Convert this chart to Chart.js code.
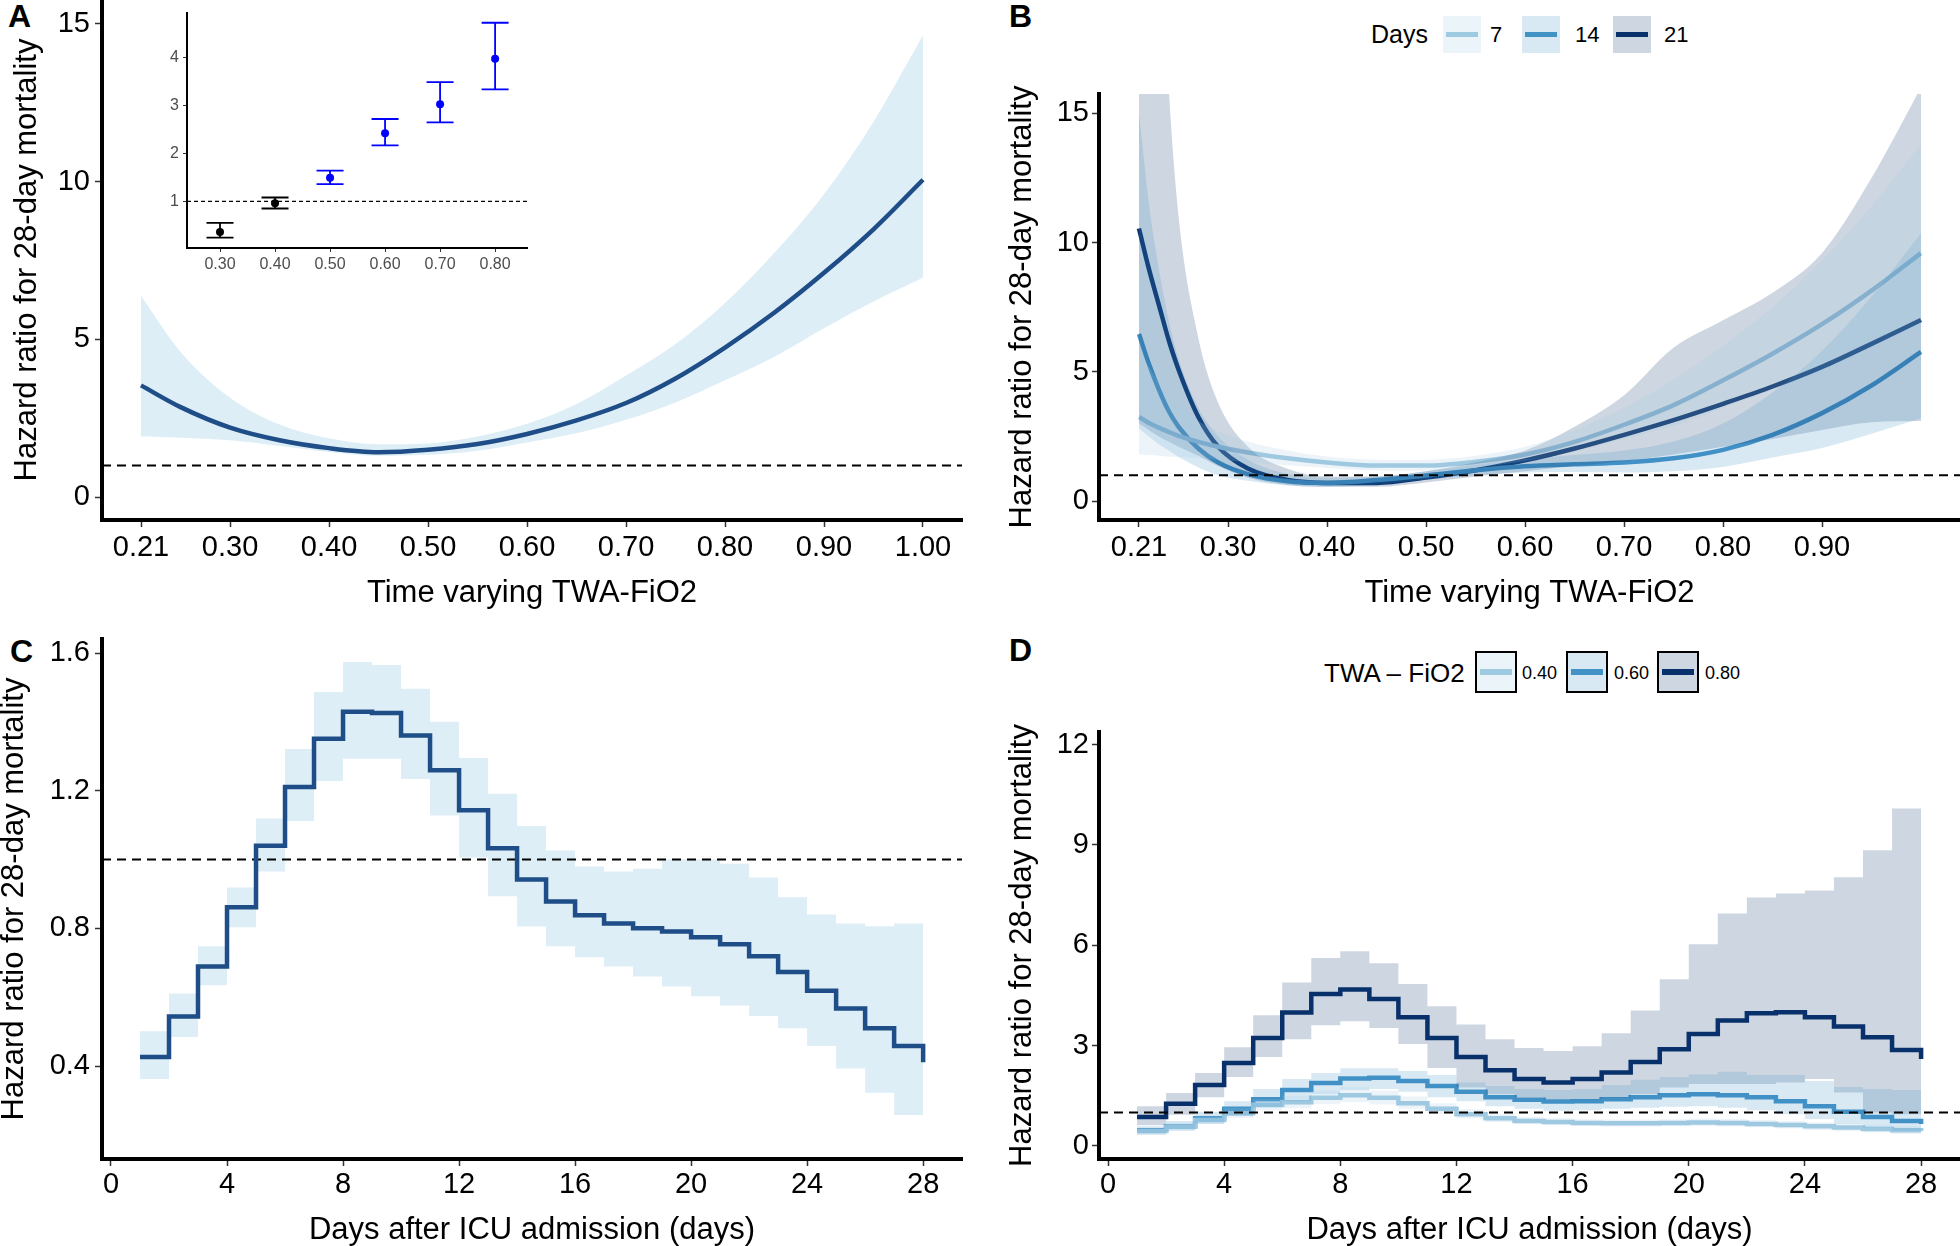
<!DOCTYPE html>
<html><head><meta charset="utf-8">
<script src="https://cdn.jsdelivr.net/npm/chart.js@4.4.1/dist/chart.umd.min.js"></script>
<style>
html,body{margin:0;padding:0;background:#fff;}
body{width:1960px;height:1246px;position:relative;overflow:hidden;font-family:"Liberation Sans",Arial,Helvetica,sans-serif;}
canvas{position:absolute;}
.t{position:absolute;line-height:1;white-space:nowrap;color:#000;}
.b{font-weight:bold;font-size:32px;}
.key{position:absolute;box-sizing:border-box;}
.kl{position:absolute;left:3px;right:3px;top:50%;height:5px;margin-top:-2.5px;}
</style></head><body>

<div class="t b" style="left:8px;top:0px">A</div>
<div class="t b" style="left:1009px;top:0px">B</div>
<div class="t b" style="left:10px;top:635px">C</div>
<div class="t b" style="left:1009px;top:634px">D</div>

<div class="t" style="left:1371px;top:22px;font-size:25px">Days</div>
<div class="key" style="left:1443px;top:16px;width:38px;height:37px;background:#EBF4F9"><div class="kl" style="background:#9ECAE1"></div></div>
<div class="t" style="left:1490px;top:24px;font-size:22px">7</div>
<div class="key" style="left:1522px;top:16px;width:38px;height:37px;background:#D9E9F4"><div class="kl" style="background:#4292C6"></div></div>
<div class="t" style="left:1575px;top:24px;font-size:22px">14</div>
<div class="key" style="left:1613px;top:16px;width:38px;height:37px;background:#CED6E1"><div class="kl" style="background:#08306B"></div></div>
<div class="t" style="left:1664px;top:24px;font-size:22px">21</div>

<div class="t" style="left:1324px;top:660px;font-size:26px">TWA – FiO2</div>
<div class="key" style="left:1475px;top:651px;width:42px;height:42px;background:#EBF4F9;border:2px solid #000"><div class="kl" style="background:#9ECAE1;height:6px;margin-top:-3px"></div></div>
<div class="t" style="left:1522px;top:664px;font-size:18px">0.40</div>
<div class="key" style="left:1566px;top:651px;width:42px;height:42px;background:#D9E9F4;border:2px solid #000"><div class="kl" style="background:#4292C6;height:6px;margin-top:-3px"></div></div>
<div class="t" style="left:1614px;top:664px;font-size:18px">0.60</div>
<div class="key" style="left:1657px;top:651px;width:42px;height:42px;background:#CED6E1;border:2px solid #000"><div class="kl" style="background:#08306B;height:6px;margin-top:-3px"></div></div>
<div class="t" style="left:1705px;top:664px;font-size:18px">0.80</div>

<script>
// ---------------- DATA ----------------
// Panel A: main spline (HR vs time-varying TWA-FiO2)
const fio2A = [0.21,0.25,0.30,0.35,0.40,0.45,0.50,0.55,0.60,0.65,0.70,0.75,0.80,0.85,0.90,0.95,1.00];
const hrA   = [3.54,2.85,2.20,1.80,1.55,1.42,1.50,1.68,2.00,2.43,2.98,3.76,4.74,5.85,7.11,8.49,10.06];
const hiA   = [6.38,4.60,3.15,2.30,1.86,1.67,1.70,1.92,2.32,2.95,3.85,4.85,6.15,7.75,9.60,11.90,14.64];
const loA   = [1.93,1.88,1.80,1.62,1.43,1.31,1.34,1.47,1.73,2.02,2.45,3.00,3.70,4.45,5.35,6.20,6.95];
const xTicksA = [0.21,0.30,0.40,0.50,0.60,0.70,0.80,0.90,1.00];
const xLabelsA = ["0.21","0.30","0.40","0.50","0.60","0.70","0.80","0.90","1.00"];
const yTicksA = [0,5,10,15];
const yLabelsA = ["0","5","10","15"];

// Panel A inset: categorical FiO2 HR with CI
const insetCats = [0.30,0.40,0.50,0.60,0.70,0.80];
const insetLabels = ["0.30","0.40","0.50","0.60","0.70","0.80"];
const insetHR = [0.36,0.96,1.49,2.42,3.03,3.98];
const insetLo = [0.24,0.85,1.36,2.17,2.65,3.34];
const insetHi = [0.55,1.08,1.64,2.72,3.49,4.73];
const insetYTicks = [1,2,3,4];

// Panel B: HR curves at day 7, 14, 21
const fio2B = [0.21,0.22,0.23,0.24,0.25,0.27,0.29,0.32,0.36,0.40,0.45,0.50,0.55,0.60,0.65,0.70,0.75,0.80,0.85,0.90,0.95,1.00];
const hrB7  = [3.25,3.02,2.84,2.67,2.52,2.29,2.10,1.88,1.65,1.49,1.37,1.37,1.52,1.80,2.29,2.95,3.71,4.67,5.70,6.84,8.14,9.59];
const hiB7  = [5.90,5.20,4.60,4.10,3.70,3.10,2.70,2.30,1.95,1.72,1.60,1.60,1.75,2.10,2.75,3.60,4.70,6.00,7.50,9.30,11.40,13.80];
const loB7  = [1.80,1.78,1.75,1.72,1.70,1.65,1.60,1.50,1.38,1.28,1.18,1.17,1.30,1.55,1.92,2.40,2.90,3.60,4.30,5.00,5.90,6.80];
const hrB14 = [6.46,5.31,4.32,3.48,2.87,2.03,1.49,1.04,0.76,0.70,0.81,0.99,1.19,1.34,1.42,1.49,1.65,1.98,2.56,3.40,4.47,5.77];
const hiB14 = [15.0,11.5,9.0,7.0,5.5,3.6,2.5,1.6,1.05,0.90,0.95,1.15,1.40,1.62,1.78,1.95,2.30,3.00,4.20,5.80,7.90,10.36];
const loB14 = [2.80,2.50,2.20,1.95,1.70,1.30,1.00,0.78,0.60,0.55,0.63,0.82,1.00,1.10,1.12,1.10,1.15,1.32,1.68,2.05,2.60,3.20];
const hrB21 = [10.54,8.98,7.60,6.23,5.08,3.25,2.10,1.26,0.81,0.70,0.70,0.91,1.19,1.57,2.03,2.56,3.13,3.76,4.43,5.19,6.08,7.00];
const hiB21 = [40.0,32.0,24.0,16.0,11.0,6.3,3.8,2.1,1.25,0.95,0.95,1.15,1.50,1.95,2.87,4.09,5.93,6.99,8.06,9.60,12.50,16.00];
const loB21 = [3.00,2.75,2.50,2.30,2.10,1.75,1.35,0.90,0.62,0.55,0.55,0.72,0.95,1.15,1.35,1.55,1.80,2.10,2.40,2.75,3.05,3.10];
const xTicksB = [0.21,0.30,0.40,0.50,0.60,0.70,0.80,0.90];
const xLabelsB = ["0.21","0.30","0.40","0.50","0.60","0.70","0.80","0.90"];
const yTicksB = [0,5,10,15];
const yLabelsB = ["0","5","10","15"];

// Panel C: HR by day after ICU admission
const daysC = [1,2,3,4,5,6,7,8,9,10,11,12,13,14,15,16,17,18,19,20,21,22,23,24,25,26,27,28];
const hrC = [0.426,0.544,0.689,0.861,1.040,1.211,1.351,1.429,1.426,1.360,1.259,1.143,1.033,0.942,0.878,0.838,0.814,0.800,0.791,0.774,0.754,0.719,0.673,0.619,0.567,0.510,0.458,0.411];
const hiC = [0.501,0.611,0.748,0.919,1.119,1.321,1.487,1.574,1.565,1.496,1.400,1.295,1.191,1.097,1.026,0.980,0.965,0.973,1.000,1.000,0.988,0.948,0.890,0.840,0.814,0.806,0.814,0.814];
const loC = [0.362,0.484,0.635,0.803,0.965,1.112,1.228,1.293,1.293,1.234,1.128,1.006,0.893,0.805,0.748,0.716,0.689,0.660,0.631,0.603,0.576,0.545,0.510,0.458,0.393,0.322,0.258,0.210];
const dayTicks = [0,4,8,12,16,20,24,28];
const dayLabels = ["0","4","8","12","16","20","24","28"];
const yTicksC = [0.4,0.8,1.2,1.6];
const yLabelsC = ["0.4","0.8","1.2","1.6"];

// Panel D: HR by day for TWA-FiO2 0.40, 0.60, 0.80
const daysD = [1,2,3,4,5,6,7,8,9,10,11,12,13,14,15,16,17,18,19,20,21,22,23,24,25,26,27,28];
const hrD40 = [0.45,0.58,0.78,0.98,1.23,1.31,1.44,1.52,1.44,1.28,1.11,0.95,0.83,0.75,0.72,0.69,0.68,0.68,0.69,0.70,0.69,0.66,0.63,0.59,0.55,0.51,0.47,0.45];
const hiD40 = [0.55,0.70,0.92,1.14,1.40,1.50,1.66,1.76,1.66,1.48,1.28,1.10,0.96,0.87,0.83,0.80,0.79,0.79,0.80,0.82,0.81,0.78,0.75,0.71,0.67,0.63,0.60,0.58];
const loD40 = [0.37,0.48,0.66,0.84,1.07,1.13,1.25,1.31,1.24,1.11,0.96,0.82,0.72,0.65,0.62,0.60,0.58,0.58,0.59,0.59,0.58,0.56,0.52,0.48,0.44,0.40,0.36,0.34];
const hrD60 = [0.47,0.59,0.83,1.11,1.40,1.67,1.88,2.02,2.04,1.94,1.79,1.62,1.46,1.38,1.33,1.34,1.40,1.46,1.52,1.55,1.52,1.46,1.34,1.19,1.02,0.87,0.75,0.66];
const hiD60 = [0.59,0.75,1.02,1.34,1.70,2.00,2.18,2.32,2.32,2.24,2.12,1.90,1.79,1.70,1.67,1.70,1.82,1.98,2.06,2.14,2.22,2.12,2.12,1.94,1.76,1.70,1.67,1.67];
const loD60 = [0.33,0.45,0.66,0.90,1.14,1.34,1.55,1.67,1.70,1.62,1.46,1.34,1.19,1.11,1.05,1.07,1.11,1.14,1.17,1.19,1.14,1.07,0.95,0.81,0.66,0.55,0.45,0.40];
const hrD80 = [0.87,1.26,1.82,2.48,3.23,3.99,4.54,4.68,4.39,3.85,3.23,2.66,2.26,2.00,1.90,2.00,2.20,2.51,2.89,3.35,3.75,3.97,4.00,3.85,3.57,3.25,2.87,2.60];
const hiD80 = [1.19,1.58,2.18,2.95,3.91,4.89,5.62,5.82,5.46,4.84,4.18,3.63,3.19,2.93,2.84,2.98,3.37,4.05,4.98,6.03,6.95,7.43,7.55,7.64,8.03,8.84,10.09,11.80];
const loD80 = [0.62,0.93,1.46,2.06,2.66,3.19,3.61,3.73,3.53,3.05,2.33,1.75,1.55,1.45,1.40,1.40,1.45,1.55,1.75,1.85,1.85,1.85,1.90,2.00,1.60,1.00,0.95,0.95];
const yTicksD = [0,3,6,9,12];
const yLabelsD = ["0","3","6","9","12"];

const refHR = 1;

// ---------------- HELPERS ----------------
Chart.defaults.font.family = '"Liberation Sans", Arial, Helvetica, sans-serif';
Chart.defaults.color = '#000';

function pts(xs, ys){ return xs.map((x,i)=>({x:x, y:ys[i]})); }

function makeCanvas(id, left, top, w, h){
  const c = document.createElement('canvas');
  c.id = id; c.width = w; c.height = h;
  c.style.left = left+'px'; c.style.top = top+'px';
  c.style.width = w+'px'; c.style.height = h+'px';
  document.body.appendChild(c);
  return c;
}

function axes(g){
  return {
    x: {
      type:'linear', min:g.xmin, max:g.xmax,
      afterBuildTicks: s => { s.ticks = g.xt.map(v=>({value:v})); },
      afterFit: s => { s.height = g.xh; s.paddingLeft = 0; s.paddingRight = 0; },
      ticks: { autoSkip:false, maxRotation:0, minRotation:0, padding:g.xtp, color:g.tc||'#000',
               font:{size:g.tf}, callback:(v,i)=>g.xl[i] },
      grid: { display:true, drawOnChartArea:false, drawTicks:true, tickLength:g.tl, tickWidth:g.tw, tickColor:'#333', color:'#333' },
      border: { display:true, color:'#000', width:g.bw },
      title: g.xtitle ? { display:true, text:g.xtitle, color:'#000', font:{size:31}, padding:{top:0,bottom:g.xtb} } : {display:false}
    },
    y: {
      type:'linear', min:g.ymin, max:g.ymax,
      afterBuildTicks: s => { s.ticks = g.yt.map(v=>({value:v})); },
      afterFit: s => { s.width = g.yw; s.paddingTop = 0; s.paddingBottom = 0; },
      ticks: { autoSkip:false, padding:g.ytp, color:g.tc||'#000', font:{size:g.tf}, callback:(v,i)=>g.yl[i] },
      grid: { display:true, drawOnChartArea:false, drawTicks:true, tickLength:g.tl, tickWidth:g.tw, tickColor:'#333', color:'#333' },
      border: { display:true, color:'#000', width:g.bw },
      title: g.ytitle ? { display:true, text:g.ytitle, color:'#000', font:{size:31}, padding:{top:g.ytt,bottom:0} } : {display:false}
    }
  };
}

function baseOpts(g, pad){
  return {
    responsive:false, animation:false, devicePixelRatio:1, events:[],
    layout:{padding:pad},
    plugins:{legend:{display:false}, tooltip:{enabled:false}, filler:{propagate:false}},
    scales: axes(g),
    elements:{point:{radius:0}}
  };
}

function lineDS(data, color, width, order, extra){
  return Object.assign({type:'line', data:data, borderColor:color, borderWidth:width, pointRadius:0,
    fill:false, order:order, borderCapStyle:'butt', borderJoinStyle:'miter'}, extra||{});
}
function bandDS(data, fillColor, order, fillTarget, extra){
  return Object.assign({type:'line', data:data, borderWidth:0, borderColor:'rgba(0,0,0,0)', pointRadius:0,
    backgroundColor:fillColor, fill:fillTarget, order:order}, extra||{});
}
function dashDS(xmin, xmax, order, dash, w){
  return {type:'line', data:[{x:xmin,y:refHR},{x:xmax,y:refHR}], borderColor:'#000', borderWidth:w||2,
    borderDash:dash||[9,6], pointRadius:0, fill:false, order:order};
}

const YT = "Hazard ratio for 28-day mortality";
const lineBlue = '#1E4D87', bandBlue = '#DEEEF7';
const c7 = '#9ECAE1', c14 = '#4292C6', c21 = '#08306B';
const f7 = 'rgba(158,202,225,0.2)', f14 = 'rgba(66,146,198,0.2)', f21 = 'rgba(8,48,107,0.2)';

// ---------------- PANEL A ----------------
{
  const g = {xmin:0.1706, xmax:1.0394, ymin:-0.729, ymax:15.761, xt:xTicksA, xl:xLabelsA, yt:yTicksA, yl:yLabelsA,
    xh:100, yw:102, tf:29, tl:7, tw:1.5, bw:4, xtp:4, ytp:5, xtitle:"Time varying TWA-FiO2", xtb:8.4, ytitle:YT, ytt:8.5};
  const c = makeCanvas('cA', 0, 0, 980, 620);
  const m = {cubicInterpolationMode:'monotone'};
  new Chart(c, {type:'line', data:{datasets:[
      bandDS(pts(fio2A, hiA), bandBlue, 3, '+1', m),
      bandDS(pts(fio2A, loA), bandBlue, 3, false, m),
      dashDS(g.xmin, g.xmax, 2),
      lineDS(pts(fio2A, hrA), lineBlue, 4.5, 1, {cubicInterpolationMode:'monotone', borderJoinStyle:'round'})
    ]}, options: baseOpts(g, {left:0, top:0, right:18, bottom:0})});
}

// ---------------- INSET ----------------
{
  const insetColors = ['#000000','#000000','#0000FF','#0000FF','#0000FF','#0000FF'];
  const g = {xmin:0.24, xmax:0.858, ymin:0.0245, ymax:4.934, xt:insetCats, xl:insetLabels, yt:insetYTicks, yl:["1","2","3","4"],
    xh:32, yw:47, tf:16, tl:4, tw:1, bw:2, xtp:3, ytp:4, tc:'#4D4D4D'};
  const c = makeCanvas('cI', 140, 0, 400, 280);
  const errPlugin = {
    id:'errbars',
    beforeDatasetsDraw(chart){
      const {ctx} = chart; const xs = chart.scales.x, ys = chart.scales.y;
      ctx.save(); ctx.lineWidth = 1.8; ctx.lineCap = 'butt';
      insetCats.forEach((v,i)=>{
        const px = xs.getPixelForValue(v), ph = ys.getPixelForValue(insetHi[i]), pl = ys.getPixelForValue(insetLo[i]);
        ctx.strokeStyle = insetColors[i];
        ctx.beginPath();
        ctx.moveTo(px, ph); ctx.lineTo(px, pl);
        ctx.moveTo(px-13.5, ph); ctx.lineTo(px+13.5, ph);
        ctx.moveTo(px-13.5, pl); ctx.lineTo(px+13.5, pl);
        ctx.stroke();
      });
      ctx.restore();
    }
  };
  new Chart(c, {type:'line', data:{datasets:[
      dashDS(g.xmin, g.xmax, 2, [4,3], 1.3),
      {type:'line', data:pts(insetCats, insetHR), showLine:false, pointRadius:4, pointBorderWidth:0,
       pointBackgroundColor:insetColors, pointBorderColor:insetColors, order:1}
    ]}, options: baseOpts(g, {left:0, top:13, right:13, bottom:0}), plugins:[errPlugin]});
}

// ---------------- PANEL B ----------------
{
  const g = {xmin:0.1696, xmax:1.0394, ymin:-0.735, ymax:15.747, xt:xTicksB, xl:xLabelsB, yt:yTicksB, yl:yLabelsB,
    xh:100, yw:119, tf:29, tl:7, tw:1.5, bw:4, xtp:4, ytp:3, xtitle:"Time varying TWA-FiO2", xtb:8.4, ytitle:YT, ytt:24};
  const c = makeCanvas('cB', 980, 0, 980, 620);
  const m = {cubicInterpolationMode:'monotone'};
  new Chart(c, {type:'line', data:{datasets:[
      lineDS(pts(fio2B, hrB7), c7, 4.5, 5, {cubicInterpolationMode:'monotone', borderJoinStyle:'round'}),
      lineDS(pts(fio2B, hrB14), c14, 4.5, 5, {cubicInterpolationMode:'monotone', borderJoinStyle:'round'}),
      lineDS(pts(fio2B, hrB21), c21, 4.5, 5, {cubicInterpolationMode:'monotone', borderJoinStyle:'round'}),
      bandDS(pts(fio2B, hiB7), f7, 3, '+1', m),
      bandDS(pts(fio2B, loB7), f7, 3, false, m),
      bandDS(pts(fio2B, hiB14), f14, 3, '+1', m),
      bandDS(pts(fio2B, loB14), f14, 3, false, m),
      bandDS(pts(fio2B, hiB21), f21, 3, '+1', m),
      bandDS(pts(fio2B, loB21), f21, 3, false, m),
      dashDS(g.xmin, g.xmax, 1)
    ]}, options: baseOpts(g, {left:0, top:94, right:0, bottom:0})});
}

// ---------------- PANEL C ----------------
{
  const g = {xmin:-0.31, xmax:29.34, ymin:0.1298, ymax:1.6407, xt:dayTicks, xl:dayLabels, yt:yTicksC, yl:yLabelsC,
    xh:101, yw:122, tf:29, tl:7, tw:1.5, bw:4, xtp:2, ytp:5, xtitle:"Days after ICU admission (days)", xtb:10.6, ytitle:YT, ytt:16};
  const c = makeCanvas('cC', -20, 620, 1000, 640);
  const s = {stepped:'before'};
  new Chart(c, {type:'line', data:{datasets:[
      bandDS(pts(daysC, hiC), bandBlue, 3, '+1', s),
      bandDS(pts(daysC, loC), bandBlue, 3, false, s),
      dashDS(g.xmin, g.xmax, 2),
      lineDS(pts(daysC, hrC), lineBlue, 4.5, 1, s)
    ]}, options: baseOpts(g, {left:0, top:19, right:18, bottom:0})});
}

// ---------------- PANEL D ----------------
{
  const g = {xmin:-0.31, xmax:29.34, ymin:-0.389, ymax:12.374, xt:dayTicks, xl:dayLabels, yt:yTicksD, yl:yLabelsD,
    xh:101, yw:119, tf:29, tl:7, tw:1.5, bw:4, xtp:2, ytp:3, xtitle:"Days after ICU admission (days)", xtb:10.6, ytitle:YT, ytt:24};
  const c = makeCanvas('cD', 980, 620, 980, 640);
  const s = {stepped:'before'};
  new Chart(c, {type:'line', data:{datasets:[
      lineDS(pts(daysD, hrD40), c7, 4.5, 5, s),
      lineDS(pts(daysD, hrD60), c14, 4.5, 5, s),
      lineDS(pts(daysD, hrD80), c21, 4.5, 5, s),
      bandDS(pts(daysD, hiD40), f7, 3, '+1', s),
      bandDS(pts(daysD, loD40), f7, 3, false, s),
      bandDS(pts(daysD, hiD60), f14, 3, '+1', s),
      bandDS(pts(daysD, loD60), f14, 3, false, s),
      bandDS(pts(daysD, hiD80), f21, 3, '+1', s),
      bandDS(pts(daysD, loD80), f21, 3, false, s),
      dashDS(g.xmin, g.xmax, 1)
    ]}, options: baseOpts(g, {left:0, top:112, right:0, bottom:0})});
}
</script>
</body></html>
